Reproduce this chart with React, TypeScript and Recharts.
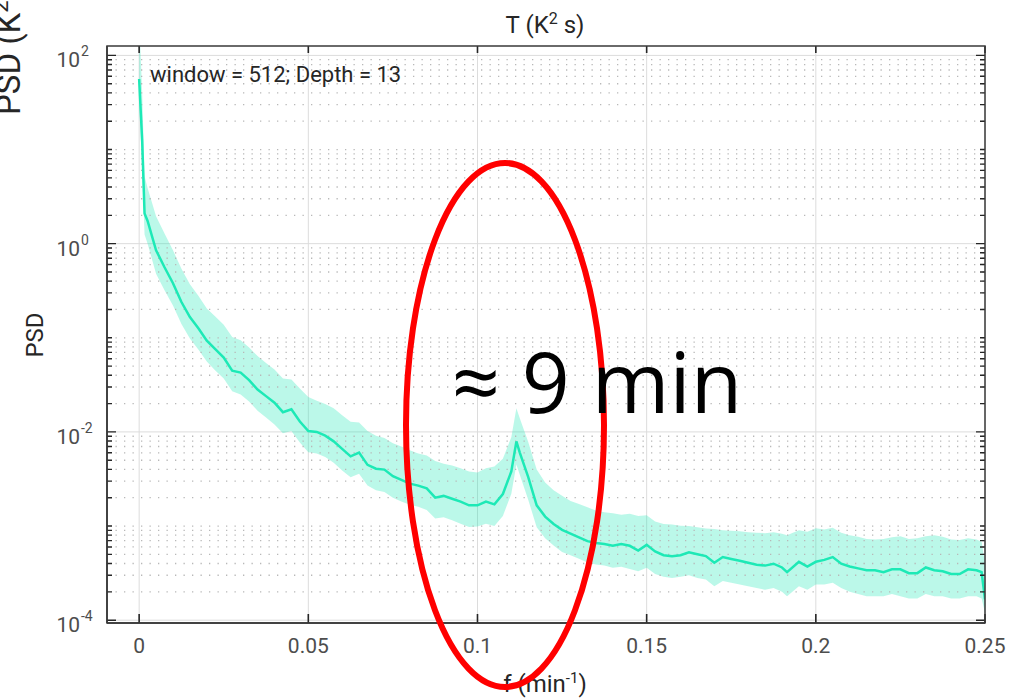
import React from 'react';
import {
  ComposedChart, Line, Area, XAxis, YAxis, CartesianGrid, ReferenceLine
} from 'recharts';

// frequency (min^-1)
const freq = [
  0, 0.0009, 0.0016, 0.0025, 0.005, 0.0075, 0.01, 0.0125, 0.015, 0.0175,
  0.02, 0.0225, 0.025, 0.0275, 0.03, 0.0325, 0.035, 0.0375, 0.04, 0.0425,
  0.045, 0.0475, 0.05, 0.0525, 0.055, 0.0575, 0.06, 0.0625, 0.065, 0.0675,
  0.07, 0.0725, 0.075, 0.0775, 0.08, 0.0825, 0.085, 0.0875, 0.09, 0.0925,
  0.095, 0.0975, 0.1, 0.1025, 0.105, 0.1075, 0.11, 0.1115, 0.1125, 0.115,
  0.1175, 0.12, 0.1225, 0.125, 0.1275, 0.13, 0.1325, 0.135, 0.1375, 0.14,
  0.1425, 0.145, 0.1475, 0.15, 0.1525, 0.155, 0.1575, 0.16, 0.1625, 0.165,
  0.1675, 0.17, 0.1725, 0.175, 0.1775, 0.18, 0.1825, 0.185, 0.1875, 0.19,
  0.1915, 0.195, 0.1975, 0.2, 0.2025, 0.205, 0.2075, 0.21, 0.2125, 0.215,
  0.2175, 0.22, 0.2225, 0.225, 0.2275, 0.23, 0.2325, 0.235, 0.2375, 0.24,
  0.2425, 0.245, 0.2475, 0.249, 0.25,
];

// PSD (K^2 s)
const psd = [
  56.2, 12.3, 2.09, 1.74, 0.851, 0.562, 0.38, 0.24, 0.166, 0.126,
  0.0933, 0.0759, 0.0617, 0.0447, 0.0427, 0.0355, 0.0282, 0.024, 0.0204, 0.0162,
  0.0174, 0.0129, 0.0102, 0.01, 0.00912, 0.00794, 0.00661, 0.0055, 0.00603, 0.00447,
  0.00407, 0.00398, 0.00339, 0.00309, 0.00282, 0.00269, 0.00251, 0.002, 0.00209, 0.00195,
  0.00182, 0.00166, 0.00166, 0.00182, 0.0017, 0.00219, 0.0038, 0.00794, 0.00603, 0.00331,
  0.00166, 0.00126, 0.00105, 0.000912, 0.000832, 0.000759, 0.000692, 0.000661, 0.000646, 0.000617,
  0.000646, 0.000617, 0.00055, 0.000631, 0.000537, 0.00049, 0.000479, 0.00049, 0.000525, 0.000501,
  0.000479, 0.000407, 0.000468, 0.000447, 0.000427, 0.000407, 0.000389, 0.00038, 0.000398, 0.000363,
  0.000324, 0.000417, 0.000372, 0.000417, 0.000437, 0.000468, 0.000398, 0.000372, 0.000355, 0.000339,
  0.000339, 0.000324, 0.000347, 0.000347, 0.000316, 0.000316, 0.000363, 0.000339, 0.000331, 0.000309,
  0.000309, 0.000347, 0.000339, 0.000324, 0.000166,
];

const psdLow = [
  35, 6.0, 1.25, 1.0, 0.48, 0.32, 0.22, 0.14, 0.098, 0.075,
  0.056, 0.045, 0.037, 0.027, 0.025, 0.021, 0.0168, 0.0142, 0.012, 0.0097,
  0.0102, 0.0077, 0.0061, 0.0059, 0.0054, 0.0047, 0.0039, 0.0033, 0.0036, 0.0027,
  0.0024, 0.0023, 0.002, 0.00182, 0.00168, 0.0016, 0.00148, 0.0012, 0.00124, 0.00115,
  0.00106, 0.00098, 0.00099, 0.00106, 0.001, 0.00128, 0.0022, 0.0045, 0.0035, 0.0019,
  0.00097, 0.00074, 0.00062, 0.00053, 0.00049, 0.00045, 0.00041, 0.00039, 0.00038, 0.00036,
  0.00037, 0.00035, 0.00033, 0.00036, 0.00031, 0.00029, 0.00028, 0.00029, 0.0003, 0.00028,
  0.00027, 0.00023, 0.00026, 0.00025, 0.00024, 0.00023, 0.00022, 0.00021, 0.00022, 0.0002,
  0.00018, 0.00023, 0.00021, 0.00024, 0.00024, 0.00025, 0.00022, 0.0002, 0.00019, 0.00018,
  0.00018, 0.00018, 0.00019, 0.00018, 0.00017, 0.00017, 0.00019, 0.00018, 0.00018, 0.00017,
  0.00017, 0.00018, 0.00018, 0.00017, 0.00012,
];

const psdHigh = [
  250, 40, 5.2, 3.9, 1.95, 1.28, 0.85, 0.54, 0.37, 0.28,
  0.205, 0.168, 0.138, 0.102, 0.094, 0.079, 0.064, 0.054, 0.046, 0.037,
  0.036, 0.029, 0.0235, 0.0215, 0.0198, 0.0178, 0.015, 0.0128, 0.0126, 0.0102,
  0.0091, 0.0086, 0.0076, 0.007, 0.0064, 0.0059, 0.0056, 0.0049, 0.0046, 0.0044,
  0.0041, 0.0038, 0.0037, 0.0041, 0.0043, 0.0052, 0.0088, 0.0178, 0.014, 0.0078,
  0.004, 0.0029, 0.0024, 0.0021, 0.00185, 0.00172, 0.00158, 0.00146, 0.0014, 0.00137,
  0.00132, 0.00135, 0.00128, 0.0013, 0.00112, 0.00105, 0.00104, 0.00101, 0.001, 0.00097,
  0.00094, 0.00093, 0.0009, 0.00089, 0.00088, 0.00086, 0.00085, 0.00084, 0.00086, 0.00083,
  0.0008, 0.0009, 0.00087, 0.00095, 0.00092, 0.00096, 0.00085, 0.0008, 0.00077, 0.00073,
  0.00072, 0.00073, 0.00076, 0.00078, 0.00073, 0.00074, 0.00078, 0.0008, 0.00077, 0.00072,
  0.00071, 0.00074, 0.00072, 0.00068, 0.0004,
];

const xTicks = [0, 0.05, 0.1, 0.15, 0.2, 0.25];
const yTicks = [1e-4, 1e-2, 1, 100];
const minorDecades = [-4, -3, -2, -1, 0, 1];
const minorSteps = [1, 2, 3, 4, 5, 6, 7, 8, 9];

const isMajor = (v: number) => yTicks.some((t) => Math.abs(t - v) < t * 1e-6);

const yMinor: number[] = [];
minorDecades.forEach((d) => {
  minorSteps.forEach((m) => {
    const v = m * Math.pow(10, d);
    if (!isMajor(v)) yMinor.push(v);
  });
});
const yAllTicks = [...yTicks, ...yMinor].sort((a, b) => a - b);

const Y_DOMAIN: [number, number] = [Math.pow(10, -4.03), Math.pow(10, 2.1)];
const X_DOMAIN: [number, number] = [-0.0095, 0.25];

// plot box, follows from the margins and axis sizes below
const PLOT_L = 107;
const PLOT_T = 46;
const PLOT_W = 1033 - 107 - 48;
const PLOT_H = 698 - 46 - 75;

const LINE = '#1de9b6';
const FONT = 'Roboto, "DejaVu Sans", sans-serif';
const DARK = '#262626';

const data = freq.map((f, i) => ({ f, psd: psd[i], band: [psdLow[i], psdHigh[i]] }));

const XTick = (props: any) => {
  const { x, y, payload } = props;
  return (
    <g>
      <path d={`M${x},${y}v-9M${x},${y - PLOT_H}v7`} stroke={DARK} strokeWidth={1.6} fill="none" />
      <text x={x} y={y + 30} textAnchor="middle" fontSize={21} fill="#4d4d4d" fontFamily={FONT}>
        {payload.value}
      </text>
    </g>
  );
};

const YTick = (props: any) => {
  const { x, y, payload } = props;
  const major = isMajor(payload.value);
  const len = major ? 9 : 5;
  const exp = Math.round(Math.log10(payload.value));
  return (
    <g>
      <path d={`M${x},${y}h${len}M${x + PLOT_W},${y}h${-len}`} stroke={DARK} strokeWidth={1.4} fill="none" />
      {major && (
        <>
          <text x={x - 27} y={y + 12} textAnchor="end" fontSize={21} fill="#4d4d4d" fontFamily={FONT}>10</text>
          <text x={x - 26} y={y + 1} textAnchor="start" fontSize={14} fill="#4d4d4d" fontFamily={FONT}>{exp}</text>
        </>
      )}
    </g>
  );
};

export default function App() {
  return (
    <div style={{ position: 'absolute', left: 0, top: 0, width: 1033, height: 698, background: '#fff' }}>
      <ComposedChart width={1033} height={698} data={data}
        margin={{ top: PLOT_T, right: 48, bottom: 0, left: 0 }}>
        <CartesianGrid stroke="#dcdcdc" strokeWidth={1} horizontalValues={yTicks} verticalValues={xTicks} />
        {yMinor.map((v) => (
          <ReferenceLine key={v} y={v} stroke="#b8b8b8" strokeWidth={1.3} strokeDasharray="1.3 7.2" ifOverflow="hidden" />
        ))}
        <Area dataKey="band" type="linear" stroke="none" fill={LINE} fillOpacity={0.3}
          isAnimationActive={false} />
        <Line dataKey="psd" type="linear" stroke={LINE} strokeWidth={2.5} dot={false}
          isAnimationActive={false} />
        <XAxis dataKey="f" type="number" domain={X_DOMAIN} ticks={xTicks} allowDataOverflow
          height={75} tickSize={0} tickMargin={0} tickLine={false} tick={XTick} interval={0}
          axisLine={{ stroke: DARK, strokeWidth: 1.5 }} />
        <YAxis scale="log" domain={Y_DOMAIN} ticks={yAllTicks} allowDataOverflow width={PLOT_L}
          tickSize={0} tickMargin={0} tickLine={false} tick={YTick} interval={0}
          axisLine={{ stroke: DARK, strokeWidth: 1.5 }} />
      </ComposedChart>
      <svg width={1033} height={698} style={{ position: 'absolute', left: 0, top: 0, pointerEvents: 'none' }}>
        <rect x={PLOT_L} y={PLOT_T} width={PLOT_W} height={PLOT_H} fill="none" stroke="#3a3a3a" strokeWidth={1.5} />
        <text x={545} y={33} textAnchor="middle" fontSize={24} fill={DARK} fontFamily={FONT}>
          T (K<tspan dy={-9} fontSize={16}>2</tspan><tspan dy={9} fontSize={24}> s)</tspan>
        </text>
        <text x={150} y={82} fontSize={22} fill={DARK} fontFamily={FONT}>window = 512; Depth = 13</text>
        <text transform="translate(20,115) rotate(-90)" fontSize={33} fill={DARK} fontFamily={FONT}>
          PSD (K<tspan dy={-12} fontSize={22}>2</tspan><tspan dy={12} fontSize={33}> s)</tspan>
        </text>
        <text transform="translate(43,335) rotate(-90)" textAnchor="middle" fontSize={24} fill={DARK} fontFamily={FONT}>PSD</text>
        <text x={545} y={692} textAnchor="middle" fontSize={24} fill={DARK} fontFamily={FONT}>
          f (min<tspan dy={-9} fontSize={15}>-1</tspan><tspan dy={9} fontSize={24}>)</tspan>
        </text>
        <ellipse cx={505} cy={425} rx={99} ry={262} fill="none" stroke="#ff0000" strokeWidth={6} />
        <text x={452} y={413} fontSize={84} fill="#000" fontFamily='"Open Sans", sans-serif'>≈ 9 min</text>
      </svg>
    </div>
  );
}
